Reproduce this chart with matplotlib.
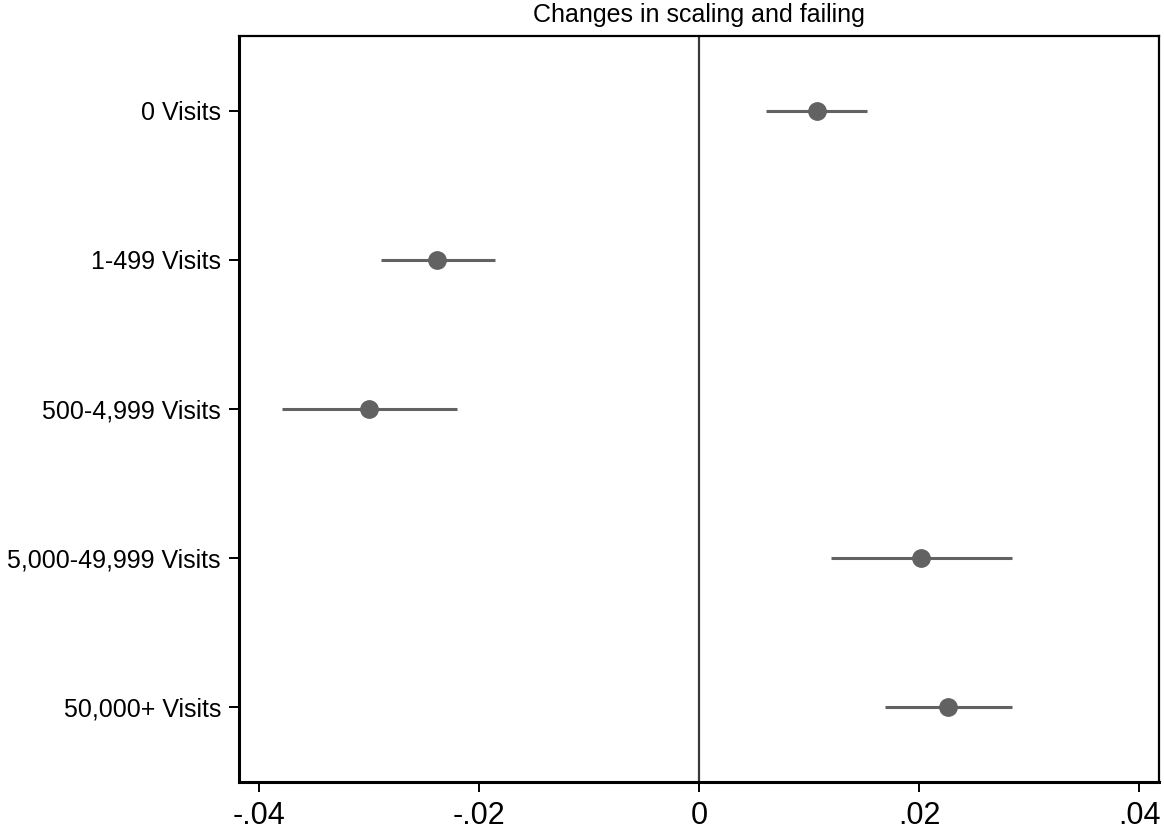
import matplotlib
matplotlib.use("Agg")
import matplotlib.pyplot as plt

plt.rcParams['font.family'] = ['Liberation Sans', 'DejaVu Sans']

# categories, top to bottom
categorias = ['0 Visits', '1-499 Visits', '500-4,999 Visits',
              '5,000-49,999 Visits', '50,000+ Visits']
coef = [0.0107, -0.0238, -0.0300, 0.0202, 0.0226]
ci_baixo = [0.0061, -0.0289, -0.0379, 0.0120, 0.0169]
ci_alto = [0.0153, -0.0185, -0.0220, 0.0284, 0.0284]
xticks = [-0.04, -0.02, 0, 0.02, 0.04]
xtick_labels = ['-.04', '-.02', '0', '.02', '.04']

fig = plt.figure(figsize=(11.64, 8.36), dpi=100)
ax = fig.add_axes([0.2053, 0.0646, 0.9957 - 0.2053, 0.9569 - 0.0646])

pos = list(range(1, len(categorias) + 1))
cinza = '#626262'

# linha do zero
ax.axvline(0, color='#3a3a3a', lw=1.6, zorder=1)

# intervalos de confianca
ax.hlines(pos, ci_baixo, ci_alto, color=cinza, lw=2.2, zorder=2)
ax.plot(coef, pos, 'o', color=cinza, markersize=12.5, zorder=3)

ax.set_xlim(-0.0418, 0.0418)
ax.set_ylim(5.5, 0.5)
ax.set_xticks(xticks)
ax.set_xticklabels(xtick_labels, fontsize=22)
ax.set_yticks(pos)
ax.set_yticklabels(categorias, fontsize=18)
ax.tick_params(axis='both', length=7, width=1.4, color='black')
ax.tick_params(axis='x', pad=7)
ax.tick_params(axis='y', pad=6)

for lado in ['left', 'bottom']:
    ax.spines[lado].set_linewidth(2.2)
for lado in ['top', 'right']:
    ax.spines[lado].set_linewidth(1.6)

ax.set_title('Changes in scaling and failing', fontsize=18, pad=10)

plt.savefig('out.png', dpi=100)
